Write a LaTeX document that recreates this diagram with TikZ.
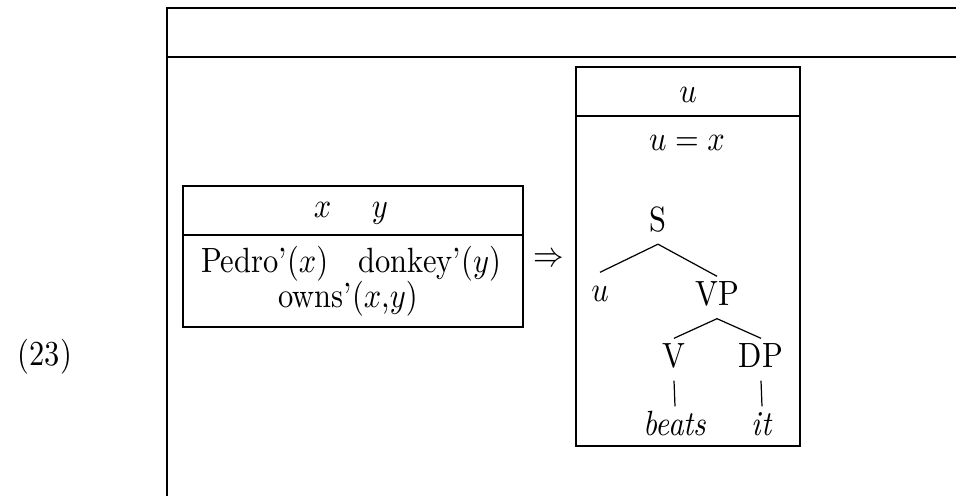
\documentclass[tikz,border=0pt]{standalone}
\usepackage{amsmath}
\usetikzlibrary{positioning}
% the text in the picture is set a little taller than wide
\newcommand{\tallt}[1]{\scalebox{1}[1.15]{#1}}

\begin{document}
\begin{tikzpicture}[x=0.328pt, y=-0.328pt, font=\normalsize,
  drs/.style={draw, line width=0.45pt},
  cat/.style={inner sep=2pt, text height=7.5pt, text depth=2pt},
  branch/.style={line width=0.4pt}]
\useasboundingbox (0,0) rectangle (956,496);
% outer box, cut off at right and bottom
\draw[drs] (956,8) -- (167,8) -- (167,496);
\draw[drs] (167,57) -- (956,57);
\node (exnum) at (45,357) {\tallt{(23)}};
% left box
\draw[drs] (183,186) rectangle (523,327);
\draw[drs] (183,235) -- (523,235);
\node (lrefs) at (351,213) {\tallt{$x$ \quad $y$}};
\node (lcond1) at (351,264) {\tallt{Pedro'$(x)$\quad donkey'$(y)$}};
\node (lcond2) at (348,299) {\tallt{owns'$(x$,$y)$}};
\node (impl) at (549,260) {\tallt{$\Rightarrow$}};
% right box
\draw[drs] (576,67) rectangle (800,446);
\draw[drs] (576,116) -- (800,116);
\node (rrefs) at (688,95) {\tallt{$u$}};
\node (rcond) at (687,143) {\tallt{$u = x$}};
% tree
\node[cat] (s) at (658,223) {\tallt{S}};
\node[cat] (subj) at (600,293.5) {\tallt{$u$}};
\node[cat] (vp) at (717,297.5) {\tallt{VP}};
\node[cat] (v) at (674,359.5) {\tallt{V}};
\node[cat] (dp) at (761,359.5) {\tallt{DP}};
\node[cat] (beats) at (675,427.5) {\tallt{\textit{beats}}};
\node[cat] (it) at (762,427.5) {\tallt{\textit{it}}};
\draw[branch] (s.south) -- (subj.north);
\draw[branch] (s.south) -- (vp.north);
\draw[branch] (vp.south) -- (v.north);
\draw[branch] (vp.south) -- (dp.north);
\draw[branch] (v.south) -- (beats.north);
\draw[branch] (dp.south) -- (it.north);
\end{tikzpicture}
\end{document}
